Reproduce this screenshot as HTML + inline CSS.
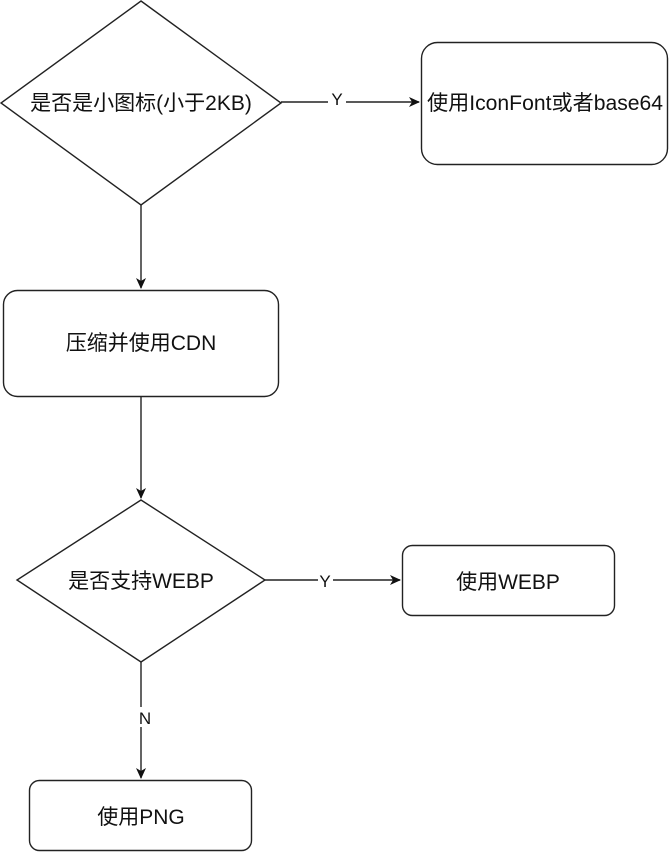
<!DOCTYPE html>
<html><head><meta charset="utf-8"><style>
html,body{margin:0;padding:0;background:#fff;}
svg{display:block;}
text{font-family:"Liberation Sans","Noto Sans CJK SC",sans-serif;font-size:21px;fill:#111;}
</style></head><body>
<svg width="670" height="852" viewBox="0 0 670 852" xmlns="http://www.w3.org/2000/svg">
<defs><marker id="a" markerWidth="12" markerHeight="12" refX="10" refY="5" orient="auto" markerUnits="userSpaceOnUse"><path d="M0,0 L11,5 L0,10 L3,5 Z" fill="#111"/></marker></defs>
<g stroke="#222" stroke-width="1.4" fill="none">
<polygon points="141,1 281,103 141,205 1,103" fill="#fff"/>
<rect x="421.5" y="42.5" width="246" height="122" rx="16" fill="#fff"/>
<rect x="3.5" y="290.5" width="275" height="106" rx="14" fill="#fff"/>
<polygon points="141,500 265,580 141,662 17,580" fill="#fff"/>
<rect x="402.5" y="545.5" width="212" height="70" rx="10" fill="#fff"/>
<rect x="29.5" y="780.5" width="222" height="70" rx="10" fill="#fff"/>
<line x1="281" y1="102" x2="328" y2="102"/>
<line x1="346" y1="102" x2="419" y2="102" marker-end="url(#a)"/>
<line x1="141" y1="205" x2="141" y2="288" marker-end="url(#a)"/>
<line x1="141" y1="397" x2="141" y2="498" marker-end="url(#a)"/>
<line x1="265" y1="580" x2="318" y2="580"/>
<line x1="333" y1="580" x2="400" y2="580" marker-end="url(#a)"/>
<line x1="141" y1="662" x2="141" y2="707"/>
<line x1="141" y1="727" x2="141" y2="778" marker-end="url(#a)"/>
</g>
<text x="141" y="110" text-anchor="middle">是否是小图标(小于2KB)</text>
<text x="545" y="110" text-anchor="middle" textLength="236" lengthAdjust="spacingAndGlyphs">使用IconFont或者base64</text>
<text x="337" y="105" text-anchor="middle" style="font-size:17px">Y</text>
<text x="141" y="350" text-anchor="middle">压缩并使用CDN</text>
<text x="141" y="588" text-anchor="middle">是否支持WEBP</text>
<text x="508" y="589" text-anchor="middle">使用WEBP</text>
<text x="325" y="587" text-anchor="middle" style="font-size:17px">Y</text>
<text x="145" y="724" text-anchor="middle" style="font-size:17px">N</text>
<text x="141" y="824" text-anchor="middle">使用PNG</text>
</svg>
</body></html>
